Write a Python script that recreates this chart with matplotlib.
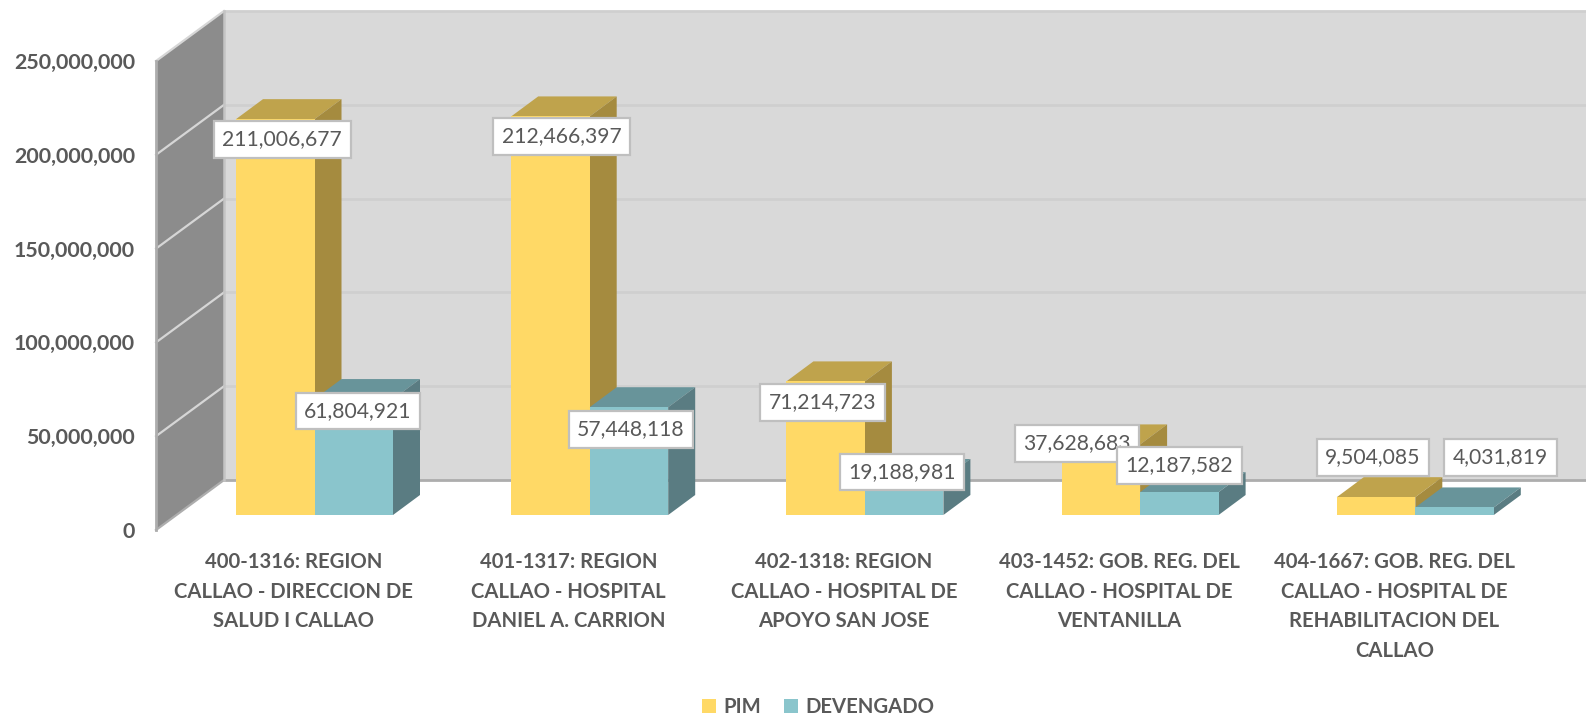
import matplotlib
matplotlib.use('Agg')
import matplotlib.pyplot as plt
from matplotlib.patches import Polygon, Patch

plt.rcParams['font.family'] = ['Lato', 'DejaVu Sans']

categorias = ['400-1316: REGION\nCALLAO - DIRECCION DE\nSALUD I CALLAO',
              '401-1317: REGION\nCALLAO - HOSPITAL\nDANIEL A. CARRION',
              '402-1318: REGION\nCALLAO - HOSPITAL DE\nAPOYO SAN JOSE',
              '403-1452: GOB. REG. DEL\nCALLAO - HOSPITAL DE\nVENTANILLA',
              '404-1667: GOB. REG. DEL\nCALLAO - HOSPITAL DE\nREHABILITACION DEL\nCALLAO']
pim = [211006677, 212466397, 71214723, 37628683, 9504085]
devengado = [61804921, 57448118, 19188981, 12187582, 4031819]
ticks = [0, 50000000, 100000000, 150000000, 200000000, 250000000]

# desplazamiento de las etiquetas respecto a la barra (pixeles)
pim_off = [(7, -20), (11, -20), (-3, -21), (-24, 1), (-3, 40)]
dev_off = [(4, -12), (2, -22), (-2, 7), (0, 27), (46, 50)]

# escala: pixeles por categoria y por unidad de valor
px_cat = 275.2
px_val = 93.8 / 50000000
x0_px = 314.5
y0_px = 515
ancho = 78.5 / px_cat
prof_x = 27 / px_cat
prof_y = 20 / px_val

fig = plt.figure(figsize=(15.86, 7.17), dpi=100)
ax = fig.add_axes([0, 0, 1, 1])
ax.set_xlim(-x0_px / px_cat, (1586 - x0_px) / px_cat)
ax.set_ylim(-(717 - y0_px) / px_val, y0_px / px_val)
ax.axis('off')

# paredes
pared_izq = (156 - x0_px) / px_cat
pared_fondo = (224 - x0_px) / px_cat
base_frente = -15 / px_val
base_fondo = 35 / px_val
tope = ticks[-1]
fin = (1586 - x0_px) / px_cat

ax.add_patch(Polygon([(pared_fondo, base_fondo), (fin, base_fondo),
                      (fin, tope + base_fondo), (pared_fondo, tope + base_fondo)],
                     fc='#D9D9D9', ec='none', zorder=1))
ax.add_patch(Polygon([(pared_izq, base_frente), (pared_fondo, base_fondo),
                      (pared_fondo, tope + base_fondo), (pared_izq, tope + base_frente)],
                     fc='#8C8C8C', ec='none', zorder=2))
for t in ticks:
    color = '#ADADAD' if t == 0 else '#CFCFCF'
    ax.plot([pared_fondo, fin], [t + base_fondo, t + base_fondo], color=color, lw=2, zorder=1.5)
    ax.plot([pared_izq, pared_fondo], [t + base_frente, t + base_fondo],
            color='#ADADAD' if t == 0 else '#D6D6D6', lw=1.6, zorder=2.5)
    ax.annotate(f'{t:,}', xy=(pared_izq, t + base_frente), xytext=(-21, -2),
                textcoords='offset pixels', ha='right', va='center',
                fontsize=15.4, fontweight='bold', color='#595959')
ax.plot([pared_izq, pared_izq], [base_frente, tope + base_frente], color='#ADADAD', lw=2, zorder=2.5)
ax.plot([pared_fondo, pared_fondo], [base_fondo, tope + base_fondo], color='#C4C4C4', lw=1.8, zorder=2.5)


def barra(x, valor, frente, lado, arriba, z):
    d = x + ancho
    ax.add_patch(Polygon([(x, valor), (x + prof_x, valor + prof_y),
                          (d + prof_x, valor + prof_y), (d, valor)], fc=arriba, ec='none', zorder=z))
    ax.add_patch(Polygon([(d, 0), (d + prof_x, prof_y), (d + prof_x, valor + prof_y), (d, valor)],
                         fc=lado, ec='none', zorder=z))
    ax.bar(x, valor, width=ancho, align='edge', color=frente, zorder=z + 0.1)


for i in range(len(categorias)):
    barra(i - ancho, pim[i], '#FFD966', '#A58B3F', '#BFA34C', 3 + i)
    barra(i, devengado[i], '#8AC5CC', '#5A7C82', '#68949A', 3.3 + i)

# etiquetas de datos
caja = dict(boxstyle='square,pad=0.4', fc='white', ec='#BFBFBF', lw=1.6)
for i in range(len(categorias)):
    ax.annotate(f'{pim[i]:,}', xy=(i - ancho / 2, pim[i]), xytext=pim_off[i],
                textcoords='offset pixels', ha='center', va='center', fontsize=15.2,
                color='#595959', bbox=caja, zorder=20 + i)
    ax.annotate(f'{devengado[i]:,}', xy=(i + ancho / 2, devengado[i]), xytext=dev_off[i],
                textcoords='offset pixels', ha='center', va='center', fontsize=15.2,
                color='#595959', bbox=caja, zorder=20.5 + i)
    ax.annotate(categorias[i], xy=(i, 0), xytext=(-21, -37), textcoords='offset pixels',
                ha='center', va='top', fontsize=14.6, fontweight='bold', color='#595959',
                linespacing=1.6, zorder=30)

ley = [Patch(fc='#FFD966', label='PIM'), Patch(fc='#8AC5CC', label='DEVENGADO')]
ax.legend(handles=ley, loc='center', bbox_to_anchor=(0.516, 0.014), ncol=2, frameon=False,
          prop=dict(size=14.6, weight='bold'), labelcolor='#595959', handlelength=0.68,
          handleheight=0.68, handletextpad=0.35, columnspacing=1.15, borderpad=0)

fig.savefig('out.png', dpi=100)
